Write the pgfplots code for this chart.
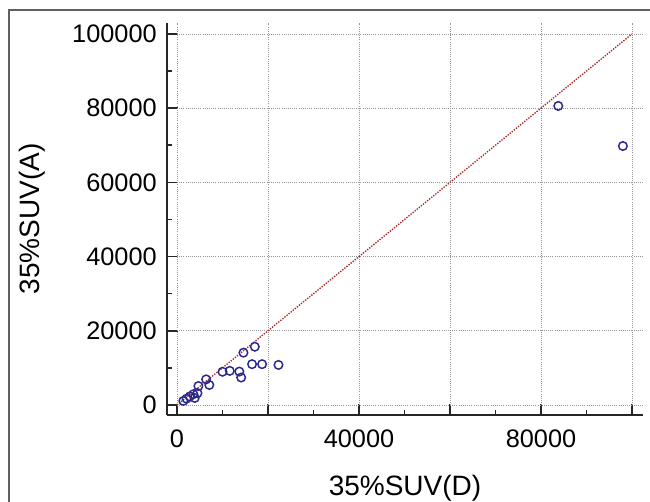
\documentclass[border=0pt]{standalone}
\usepackage{fontspec}
\setmainfont{Liberation Sans}
\usepackage{pgfplots}
\pgfplotsset{compat=1.18}
\definecolor{markblue}{RGB}{40,40,140}
\definecolor{idred}{RGB}{165,35,35}
\definecolor{gridgray}{RGB}{150,150,150}

\begin{document}
\begin{tikzpicture}
\useasboundingbox (-125.25pt,-65.25pt) rectangle (362.25pt,311.25pt);
% frame of the figure (cropped at right and bottom)
\draw[gray!75!black, line width=1.1pt] (-118.5pt,-80pt) -- (-118.5pt,303.75pt) -- (380pt,303.75pt);
\begin{axis}[
  at={(0,0)}, anchor=south west,
  scale only axis,
  width=357pt, height=294pt,
  xmin=-2200, xmax=102420,
  ymin=-2700, ymax=102960,
  scaled ticks=false,
  axis x line*=bottom, axis y line*=left,
  axis line style={line width=1.5pt, black!85, -},
  every tick/.style={line width=1.2pt, black!85},
  tick align=inside,
  major tick length=8pt, minor tick length=4pt,
  xtick={0,20000,40000,60000,80000,100000},
  xticklabels={0,,40000,,80000,},
  ytick={0,20000,40000,60000,80000,100000},
  yticklabels={0,20000,40000,60000,80000,100000},
  minor x tick num=1, minor y tick num=1,
  tick label style={font=\fontsize{19}{21}\selectfont, inner sep=0pt},
  xticklabel style={yshift=-11pt},
  yticklabel style={xshift=-7.5pt},
  xlabel={35\%SUV(D)}, ylabel={35\%SUV(A)},
  label style={font=\fontsize{21}{23}\selectfont, inner sep=0pt},
  xlabel style={at={(axis description cs:0.5,-0.186)}, anchor=center},
  ylabel style={at={(axis description cs:-0.2836,0.5)}, anchor=center},
  clip=false,
]
% grid
\addplot[gridgray, densely dotted, line width=0.6pt, forget plot] coordinates {(0,0) (0,102960)};
\addplot[gridgray, densely dotted, line width=0.6pt, forget plot] coordinates {(20000,0) (20000,102960)};
\addplot[gridgray, densely dotted, line width=0.6pt, forget plot] coordinates {(40000,0) (40000,102960)};
\addplot[gridgray, densely dotted, line width=0.6pt, forget plot] coordinates {(60000,0) (60000,102960)};
\addplot[gridgray, densely dotted, line width=0.6pt, forget plot] coordinates {(80000,0) (80000,102960)};
\addplot[gridgray, densely dotted, line width=0.6pt, forget plot] coordinates {(100000,0) (100000,102960)};
\addplot[gridgray, densely dotted, line width=0.6pt, forget plot] coordinates {(0,0) (102420,0)};
\addplot[gridgray, densely dotted, line width=0.6pt, forget plot] coordinates {(0,20000) (102420,20000)};
\addplot[gridgray, densely dotted, line width=0.6pt, forget plot] coordinates {(0,40000) (102420,40000)};
\addplot[gridgray, densely dotted, line width=0.6pt, forget plot] coordinates {(0,60000) (102420,60000)};
\addplot[gridgray, densely dotted, line width=0.6pt, forget plot] coordinates {(0,80000) (102420,80000)};
\addplot[gridgray, densely dotted, line width=0.6pt, forget plot] coordinates {(0,100000) (102420,100000)};

% line of identity
\addplot[idred, densely dotted, line width=1pt] coordinates {(0,0) (100000,100000)};

% observations
\addplot[only marks, mark=o, mark size=3.2pt, color=markblue, mark options={line width=1.1pt}]
  coordinates {
  (17100,15700) (14600,14100) (16500,11000) (18700,11000) (22300,10800)
  (10000,8950) (11600,9200) (13700,9000) (14100,7400)
  (6400,6900) (7100,5400) (4700,5100) (4500,3200)
  (3600,2900) (3900,1900) (2800,2300) (2100,1700) (1400,1100)
  (83800,80600) (98000,69800)
  };
\end{axis}
\end{tikzpicture}
\end{document}
